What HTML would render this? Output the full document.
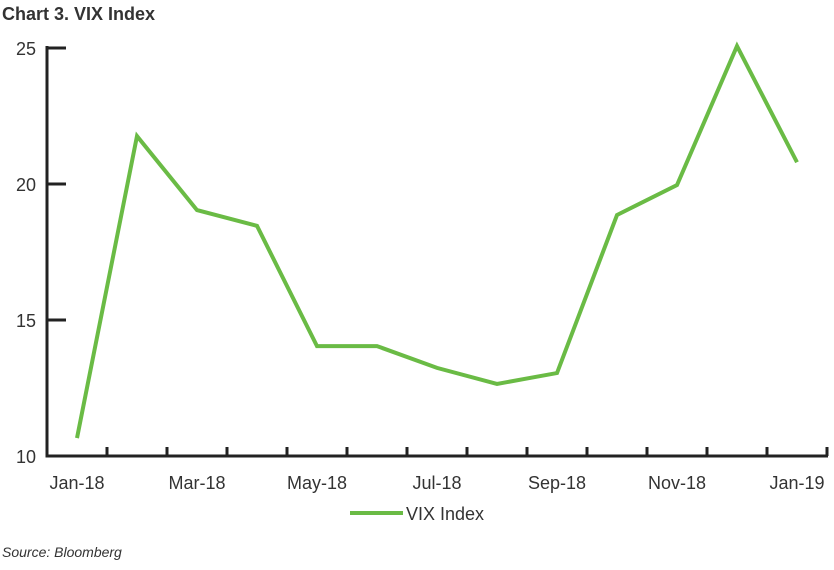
<!DOCTYPE html>
<html><head><meta charset="utf-8"><style>
body{margin:0;background:#fff;width:834px;height:565px;overflow:hidden;font-family:"Liberation Sans",sans-serif}
</style></head><body>
<svg width="834" height="565" viewBox="0 0 834 565">
<text x="2" y="20" font-size="18" font-weight="bold" fill="#333">Chart 3. VIX Index</text>
<g id="axes"></g>
<g id="series"></g>
<line x1="350" y1="513" x2="403" y2="513" stroke="#6abb45" stroke-width="4"/>
<text x="406" y="520" font-size="18" fill="#333">VIX Index</text>
<text x="2" y="557" font-size="14" font-style="italic" fill="#333">Source: Bloomberg</text>
</svg>
<script>
const categories=["Jan-18","Feb-18","Mar-18","Apr-18","May-18","Jun-18","Jul-18","Aug-18","Sep-18","Oct-18","Nov-18","Dec-18","Jan-19"];
const values=[10.66,21.76,19.04,18.46,14.04,14.04,13.24,12.65,13.05,18.86,19.96,25.07,20.8];
const yTicks=[10,15,20,25];
const xLabels=["Jan-18","Mar-18","May-18","Jul-18","Sep-18","Nov-18","Jan-19"];
const NS="http://www.w3.org/2000/svg";
const x0=47,band=60,yBase=456,yScale=27.2;
const xs=i=>x0+band*i+band/2;
const ys=v=>yBase-(v-10)*yScale;
const ax=document.getElementById('axes');
function mk(t,a,p){const e=document.createElementNS(NS,t);for(const k in a)e.setAttribute(k,a[k]);p.appendChild(e);return e;}
let l=mk('line',{x1:x0,y1:ys(25)-2,x2:x0,y2:yBase+1.5,stroke:'#222','stroke-width':3},ax);


l=mk('line',{x1:x0-1.5,y1:yBase,x2:x0+band*categories.length+1,y2:yBase,stroke:'#222','stroke-width':3},ax);


yTicks.forEach(v=>{
 if(v>10){const t=mk('line',{x1:x0,y1:ys(v),x2:x0+19,y2:ys(v),stroke:'#222','stroke-width':3},ax);
 
 }
 const tx=mk('text',{x:36,y:ys(v)+7,'font-size':18,fill:'#333','text-anchor':'end'},ax);tx.textContent=v;
 
 
});
for(let i=1;i<=categories.length;i++){
 const t=mk('line',{x1:x0+band*i,y1:yBase,x2:x0+band*i,y2:yBase-9,stroke:'#222','stroke-width':3},ax);
 
 
}
categories.forEach((c,i)=>{
 if(xLabels.indexOf(c)<0)return;
 const tx=mk('text',{x:xs(i),y:489,'font-size':18,fill:'#333','text-anchor':'middle'},ax);tx.textContent=c;
 
 
});
const pts=values.map((v,i)=>xs(i)+','+ys(v)).join(' ');
const pl=mk('polyline',{points:pts,fill:'none',stroke:'#6abb45','stroke-width':4,'stroke-linejoin':'miter'},document.getElementById('series'));


</script>
</body></html>
